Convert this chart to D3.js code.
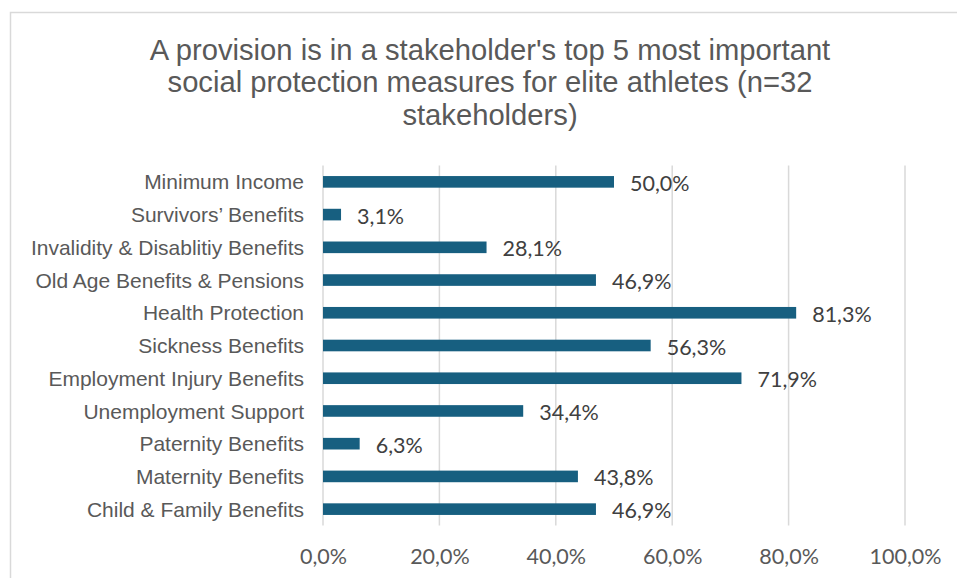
<!DOCTYPE html>
<html>
<head>
<meta charset="utf-8">
<script src="https://cdn.jsdelivr.net/npm/d3@7"></script>
<style>
  html, body { margin: 0; padding: 0; background: #fff; }
  svg { display: block; }
</style>
</head>
<body>
<svg id="chart" width="957" height="578"></svg>
<script>
// Share of stakeholders placing each provision in their top 5
const categories = [
  "Minimum Income",
  "Survivors\u2019 Benefits",
  "Invalidity & Disablitiy Benefits",
  "Old Age Benefits & Pensions",
  "Health Protection",
  "Sickness Benefits",
  "Employment Injury Benefits",
  "Unemployment Support",
  "Paternity Benefits",
  "Maternity Benefits ",
  "Child & Family Benefits"
];
const values = [50.0, 3.1, 28.1, 46.9, 81.3, 56.3, 71.9, 34.4, 6.3, 43.8, 46.9];
const tickValues = [0, 20, 40, 60, 80, 100];
const titleLines = [
  "A provision is in a stakeholder's top 5 most important",
  "social protection measures for elite athletes (n=32",
  "stakeholders)"
];

const svg = d3.select("#chart");
const fmt = v => v.toFixed(1).replace(".", ",") + "%";

// Outer chart frame
svg.append("rect")
  .attr("x", 10.5).attr("y", 12.5)
  .attr("width", 1000).attr("height", 1000)
  .attr("fill", "#fff")
  .attr("stroke", "#d9d9d9").attr("stroke-width", 1.5);

// Title
svg.append("g")
  .selectAll("text")
  .data(titleLines)
  .join("text")
  .attr("x", 490)
  .attr("y", (d, i) => 59.5 + i * 32.5)
  .attr("text-anchor", "middle")
  .attr("font-family", "'Liberation Sans', Arial, sans-serif")
  .attr("font-size", 29.2)
  .attr("fill", "#595959")
  .text(d => d);

const plot = { left: 323, right: 905, top: 165.5, bottom: 525.5 };

const x = d3.scaleLinear().domain([0, 100]).range([plot.left, plot.right]);
const y = d3.scaleBand().domain(categories).range([plot.top, plot.bottom]).paddingInner(0.645).paddingOuter(0.3225);

// Vertical gridlines
svg.append("g")
  .selectAll("line")
  .data(tickValues)
  .join("line")
  .attr("x1", d => x(d)).attr("x2", d => x(d))
  .attr("y1", plot.top).attr("y2", plot.bottom)
  .attr("stroke", "#d9d9d9").attr("stroke-width", 1.5);

// Bottom axis tick labels
const xAxis = d3.axisBottom(x).tickValues(tickValues).tickSize(0).tickPadding(0).tickFormat(fmt);
const gx = svg.append("g").attr("transform", `translate(0,${plot.bottom})`).call(xAxis);
gx.select(".domain").remove();
gx.selectAll("text")
  .attr("font-family", "Lato, 'Open Sans', sans-serif")
  .attr("font-size", 21.5)
  .attr("fill", "#595959")
  .attr("y", 38)
  .attr("dy", 0);

// Category labels
const yAxis = d3.axisLeft(y).tickSize(0).tickPadding(0);
const gy = svg.append("g").attr("transform", `translate(${plot.left - 19},0)`).call(yAxis);
gy.select(".domain").remove();
gy.selectAll("text")
  .attr("font-family", "'Liberation Sans', Arial, sans-serif")
  .attr("font-size", 21)
  .attr("fill", "#595959")
  .attr("dy", "0.36em");

// Bars
svg.append("g")
  .selectAll("rect")
  .data(values)
  .join("rect")
  .attr("x", x(0))
  .attr("y", (d, i) => y(categories[i]))
  .attr("width", d => x(d) - x(0))
  .attr("height", y.bandwidth())
  .attr("fill", "#175f80");

// Value labels
svg.append("g")
  .selectAll("text")
  .data(values)
  .join("text")
  .attr("x", d => x(d) + 16)
  .attr("y", (d, i) => y(categories[i]) + y.bandwidth() / 2)
  .attr("dy", "0.42em")
  .attr("font-family", "Lato, 'Open Sans', sans-serif")
  .attr("font-size", 21.5)
  .attr("fill", "#404040")
  .text(fmt);
</script>
</body>
</html>
